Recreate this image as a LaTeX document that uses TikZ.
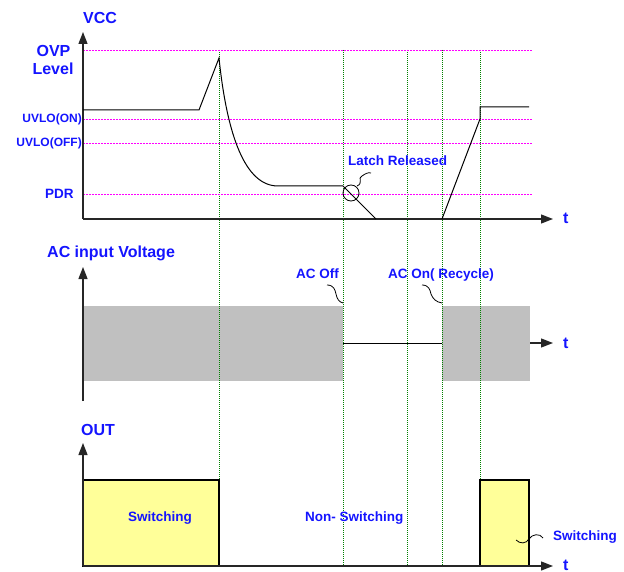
\documentclass[tikz,border=0pt]{standalone}
\usepackage{fontspec}
\setmainfont{Liberation Sans}
\usetikzlibrary{arrows.meta}
\definecolor{lblue}{RGB}{20,20,255}
\definecolor{dgreen}{RGB}{0,128,0}
\definecolor{mag}{RGB}{255,0,255}
\definecolor{grayfill}{RGB}{192,192,192}
\definecolor{yel}{RGB}{255,255,153}
\begin{document}
\begin{tikzpicture}[x=1pt,y=-1pt,
 lbl/.style={font=\bfseries\fontsize{16}{16}\selectfont, text=lblue, inner sep=0pt, anchor=base west},
 slbl/.style={lbl, font=\bfseries\fontsize{13.5}{13.5}\selectfont},
 ulbl/.style={lbl, font=\bfseries\fontsize{12}{12}\selectfont, anchor=base east},
 lvl/.style={mag, line width=0.9pt, dash pattern=on 1.5pt off 1.5pt},
 vln/.style={dgreen, line width=0.8pt, dash pattern=on 1pt off 1pt},
 axis/.style={line width=1.3pt, black!85, -{Triangle[length=12pt,width=9pt]}},
 sig/.style={line width=1pt, black},
 squig/.style={line width=0.8pt, black},
 boxsig/.style={fill=yel, draw=black, line width=1.2pt}]
\useasboundingbox (0,0) rectangle (624,572);

% gray AC bands
\fill[grayfill] (83,306) rectangle (343,381);
\fill[grayfill] (442,306) rectangle (530,381);

% green vertical event lines
\coordinate (g1t) at (219,50); \coordinate (g1b) at (219,480);
\coordinate (g2t) at (343,50); \coordinate (g2b) at (343,566);
\coordinate (g3t) at (407,50); \coordinate (g3b) at (407,566);
\coordinate (g4t) at (442,50); \coordinate (g4b) at (442,566);
\coordinate (g5t) at (480,50); \coordinate (g5b) at (480,480);
\foreach \a/\b in {g1t/g1b,g2t/g2b,g3t/g3b,g4t/g4b,g5t/g5b} \draw[vln] (\a) -- (\b);

% magenta level lines
\coordinate (ovpL) at (83,50);  \coordinate (ovpR) at (532,50);
\coordinate (uonL) at (83,119); \coordinate (uonR) at (532,119);
\coordinate (uofL) at (83,143); \coordinate (uofR) at (532,143);
\coordinate (pdrL) at (83,194); \coordinate (pdrR) at (532,194);
\foreach \a/\b in {ovpL/ovpR,uonL/uonR,uofL/uofR,pdrL/pdrR} \draw[lvl] (\a) -- (\b);

% ===== VCC panel =====
\coordinate (o1) at (83,219);
\coordinate (vtop) at (83,32);
\coordinate (vt) at (553,219);
\draw[axis] (o1) -- (vtop);
\draw[axis] (o1) -- (vt);
\coordinate (s0) at (83,110);
\coordinate (s1) at (199,110);
\coordinate (s2) at (219,58);
\coordinate (s3) at (278,186);
\coordinate (s4) at (343,186);
\coordinate (s5) at (376,219);
\coordinate (s6) at (442,219);
\coordinate (s7) at (480,119);
\coordinate (s8) at (480,107);
\coordinate (s9) at (529,107);
\draw[sig] (s0) -- (s1) -- (s2) .. controls (227,135) and (245,186) .. (s3) -- (s4) -- (s5);
\draw[sig] (s6) -- (s7) -- (s8) -- (s9);
\draw[squig] (351,193) circle (8);
\coordinate (lq0) at (357,186);
\coordinate (lq1) at (371,173);
\draw[squig] (lq0) .. controls (364,183) and (357,178) .. (362,176) .. controls (365,174) and (368,172) .. (lq1);

\node[lbl] (vcc) at (83,24) {VCC};
\node[lbl, anchor=base] (ovp) at (53.5,57) {OVP};
\node[lbl, anchor=base] (level) at (53,75) {Level};
\node[ulbl] (uvon) at (82,122.5) {UVLO(ON)};
\node[ulbl] (uvoff) at (82,147) {UVLO(OFF)};
\node[slbl] (pdr) at (45,198.5) {PDR};
\node[slbl] (latch) at (348,165.5) {Latch Released};
\node[lbl] (t1) at (563,224) {t};

% ===== AC panel =====
\coordinate (o2) at (83,401);
\coordinate (atop) at (83,267);
\draw[axis] (o2) -- (atop);
\coordinate (ac0) at (343,343);
\coordinate (ac1) at (442,343);
\draw[sig] (ac0) -- (ac1);
\coordinate (ac2) at (530,343);
\coordinate (at) at (553,343);
\draw[axis] (ac2) -- (at);
\node[lbl] (acin) at (47,258) {AC input Voltage};
\node[slbl] (acoff) at (296,278.5) {AC Off};
\node[slbl] (acon) at (388,278.5) {AC On( Recycle)};
\node[lbl] (t2) at (563,348.5) {t};
\coordinate (fq0) at (327,285); \coordinate (fq1) at (343,303);
\draw[squig] (fq0) .. controls (334,285) and (335,290) .. (336,294) .. controls (337,299) and (339,302) .. (fq1);
\coordinate (nq0) at (422,285); \coordinate (nq1) at (442,303);
\draw[squig] (nq0) .. controls (429,285) and (430,290) .. (431,294) .. controls (433,299) and (436,302) .. (nq1);

% ===== OUT panel =====
\draw[boxsig] (83,566) rectangle (219,480);
\draw[boxsig] (480,566) rectangle (529,480);
\coordinate (o3) at (83,566);
\coordinate (otop) at (83,443);
\coordinate (ot) at (553,566);
\draw[axis] (o3) -- (otop);
\draw[axis] (o3) -- (ot);
\node[lbl] (out) at (81,435) {OUT};
\node[slbl] (sw1) at (128,521.5) {Switching};
\node[slbl] (nsw) at (305,521.5) {Non- Switching};
\node[slbl] (sw2) at (553,540.5) {Switching};
\node[lbl] (t3) at (563,570) {t};
\coordinate (wq0) at (516,540); \coordinate (wq1) at (543,538);
\draw[squig] (wq0) .. controls (520,544) and (526,544) .. (529,539) .. controls (532,534) and (540,533) .. (wq1);
\end{tikzpicture}
\end{document}
